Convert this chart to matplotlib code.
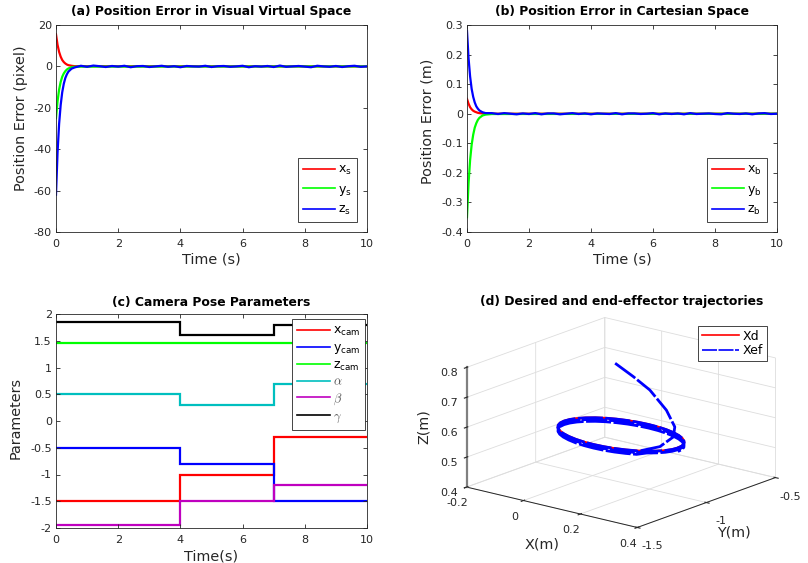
import numpy as np
import matplotlib
matplotlib.use('Agg')
import matplotlib.pyplot as plt

plt.rcParams['font.family'] = ['DejaVu Sans']
plt.rcParams['axes.unicode_minus'] = False
plt.rcParams['mathtext.default'] = 'regular'

# ---------------- data ----------------
# transient sample times (s)
t_tr = [0, 0.05, 0.1, 0.15, 0.2, 0.25, 0.3, 0.35, 0.4, 0.5, 0.6]
# (a) visual virtual space errors (pixel)
xs_tr = [15.5, 10.4, 7.0, 4.7, 3.1, 2.1, 1.4, 0.9, 0.6, 0.3, 0.1]
ys_tr = [-25, -16.8, -11.2, -7.5, -5.0, -3.4, -2.3, -1.5, -1.0, -0.4, -0.2]
zs_tr = [-62, -41.5, -27.8, -18.7, -12.5, -8.4, -5.6, -3.8, -2.5, -1.1, -0.5]
zs_ss = [0.3, -0.2, 0.4, 0.1, -0.3, 0.2, -0.1, 0.3, -0.4, 0.1, 0.2, -0.3,
         0.0, 0.3, -0.2, 0.1, -0.4, 0.2, 0.0, -0.1, 0.3, -0.3, 0.1, 0.2,
         -0.2, 0.0, 0.3, -0.4, 0.1, -0.1, 0.2, -0.3, 0.4, -0.2, 0.0, 0.2,
         -0.1, -0.4, 0.3, 0.0, -0.2, 0.2, -0.3, 0.1, 0.3, -0.2, 0.0]
xs_ss = [0.1, 0.0]
ys_ss = [-0.1, 0.0]

# (b) Cartesian space errors (m)
xb_tr = [0.05, 0.034, 0.022, 0.015, 0.010, 0.007, 0.005, 0.003, 0.002, 0.001, 0.0]
yb_tr = [-0.35, -0.235, -0.157, -0.105, -0.071, -0.047, -0.032, -0.021, -0.014, -0.006, -0.003]
zb_tr = [0.28, 0.188, 0.126, 0.084, 0.057, 0.038, 0.025, 0.017, 0.011, 0.005, 0.002]
zb_ss = [0.002, -0.001, 0.002, 0.000, -0.002, 0.001, -0.001, 0.002, -0.002, 0.001,
         0.001, -0.002, 0.000, 0.002, -0.001, 0.001, -0.002, 0.001, 0.000, -0.001,
         0.002, -0.002, 0.001, 0.001, -0.001, 0.000, 0.002, -0.002, 0.001, -0.001,
         0.001, -0.002, 0.002, -0.001, 0.000, 0.001, -0.001, -0.002, 0.002, 0.000,
         -0.001, 0.001, -0.002, 0.001, 0.002, -0.001, 0.000]
xb_ss = [0.0, 0.0]
yb_ss = [-0.001, 0.0]

# (c) camera pose parameters (piecewise constant)
t_switch = [0, 4, 7, 10]
x_cam = [-1.5, -1.0, -0.3]
y_cam = [-0.5, -0.8, -1.5]
z_cam = [1.45, 1.45, 1.45]
alpha = [0.5, 0.3, 0.7]
beta = [-1.95, -1.5, -1.2]
gamma = [1.85, 1.6, 1.8]

# (d) desired circle (m)
circ_x = [0.300, 0.297, 0.288, 0.273, 0.253, 0.229, 0.200, 0.168, 0.135, 0.100,
          0.065, 0.032, 0.000, -0.029, -0.053, -0.073, -0.088, -0.097, -0.100,
          -0.097, -0.088, -0.073, -0.053, -0.029, 0.000, 0.032, 0.065, 0.100,
          0.135, 0.168, 0.200, 0.229, 0.253, 0.273, 0.288, 0.297]
circ_y = [-1.000, -0.965, -0.932, -0.900, -0.871, -0.847, -0.827, -0.812, -0.803,
          -0.800, -0.803, -0.812, -0.827, -0.847, -0.871, -0.900, -0.932, -0.965,
          -1.000, -1.035, -1.068, -1.100, -1.129, -1.153, -1.173, -1.188, -1.197,
          -1.200, -1.197, -1.188, -1.173, -1.153, -1.129, -1.100, -1.068, -1.035]
circ_z = 0.56
# end-effector approach path (m)
app_x = [0.091, 0.138, 0.164, 0.212, 0.240, 0.252, 0.263, 0.234]
app_y = [-1.024, -0.989, -0.923, -0.902, -0.899, -0.934, -1.054, -1.161]
app_z = [0.80, 0.76, 0.71, 0.65, 0.60, 0.575, 0.565, 0.56]

# ---------------- figure ----------------
W, H = 808, 563
fig = plt.figure(figsize=(W / 100, H / 100), dpi=100)
DARK = '#262626'
TICK = 8
LAB = 10.4
TIT = 8.9


def box(l, t, r, b):
    return [l / W, 1 - b / H, (r - l) / W, (b - t) / H]


def style(ax):
    ax.tick_params(direction='in', top=True, right=True, length=3,
                   width=0.6, labelsize=TICK, colors=DARK, pad=3)
    ax.tick_params(axis='x', pad=5)
    for s in ax.spines.values():
        s.set_color(DARK)
        s.set_linewidth(0.6)


def mk_legend(ax, **kw):
    leg = ax.legend(fontsize=9, handlelength=2.6, fancybox=False,
                    edgecolor=DARK, framealpha=1, handletextpad=0.25, **kw)
    leg.get_frame().set_linewidth(0.6)
    for ln in leg.get_lines():
        ln.set_linewidth(1.2)
    return leg


LW = 1.6
# (a)
axa = fig.add_axes(box(56, 25, 367, 232))
t_ss = np.linspace(0.8, 10, len(zs_ss))
t_end = [0.8, 10]
axa.plot(t_tr + t_end, xs_tr + xs_ss, color='r', lw=LW, label='x$_{s}$')
axa.plot(t_tr + t_end, ys_tr + ys_ss, color=(0, 1, 0), lw=LW, label='y$_{s}$')
axa.plot(list(t_tr) + list(t_ss), zs_tr + zs_ss, color='b', lw=LW, label='z$_{s}$')
axa.set_xlim(0, 10)
axa.set_ylim(-80, 20)
axa.set_xticks([0, 2, 4, 6, 8, 10])
axa.set_yticks([-80, -60, -40, -20, 0, 20])
style(axa)
axa.set_xlabel('Time (s)', fontsize=LAB, color=DARK, labelpad=2.5)
axa.set_ylabel('Position Error (pixel)', fontsize=LAB, color=DARK)
axa.yaxis.set_label_coords(-0.09, 0.55)
axa.set_title('(a) Position Error in Visual Virtual Space', fontsize=TIT,
              fontweight='bold', pad=7)
mk_legend(axa, loc='lower right', borderaxespad=0.8, labelspacing=0.42)

# (b)
axb = fig.add_axes(box(467, 25, 777, 232))
axb.plot(t_tr + t_end, xb_tr + xb_ss, color='r', lw=LW, label='x$_{b}$')
axb.plot(t_tr + t_end, yb_tr + yb_ss, color=(0, 1, 0), lw=LW, label='y$_{b}$')
axb.plot(list(t_tr) + list(t_ss), zb_tr + zb_ss, color='b', lw=LW, label='z$_{b}$')
axb.set_xlim(0, 10)
axb.set_ylim(-0.4, 0.3)
axb.set_xticks([0, 2, 4, 6, 8, 10])
axb.set_yticks([-0.4, -0.3, -0.2, -0.1, 0, 0.1, 0.2, 0.3])
axb.set_yticklabels(['-0.4', '-0.3', '-0.2', '-0.1', '0', '0.1', '0.2', '0.3'])
style(axb)
axb.set_xlabel('Time (s)', fontsize=LAB, color=DARK, labelpad=2.5)
axb.set_ylabel('Position Error (m)', fontsize=LAB, color=DARK)
axb.yaxis.set_label_coords(-0.106, 0.536)
axb.set_title('(b) Position Error in Cartesian Space', fontsize=TIT,
              fontweight='bold', pad=7)
mk_legend(axb, loc='lower right', borderaxespad=0.8, labelspacing=0.42)

# (c)
axc = fig.add_axes(box(56, 314, 367, 528))
series_c = [(x_cam, 'r', 'x$_{cam}$'), (y_cam, 'b', 'y$_{cam}$'),
            (z_cam, (0, 1, 0), 'z$_{cam}$'), (alpha, 'c', r'$\mathit{\alpha}$'),
            (beta, 'm', r'$\mathit{\beta}$'), (gamma, 'k', r'$\mathit{\gamma}$')]
for vals, col, lab in series_c:
    axc.stairs(vals, t_switch, color=col, lw=LW, label=lab, baseline=None)
axc.set_xlim(0, 10)
axc.set_ylim(-2, 2)
axc.set_xticks([0, 2, 4, 6, 8, 10])
axc.set_yticks([-2, -1.5, -1, -0.5, 0, 0.5, 1, 1.5, 2])
axc.set_yticklabels(['-2', '-1.5', '-1', '-0.5', '0', '0.5', '1', '1.5', '2'])
style(axc)
axc.set_xlabel('Time(s)', fontsize=LAB, color=DARK, labelpad=3)
axc.set_ylabel('Parameters', fontsize=LAB, color=DARK)
axc.yaxis.set_label_coords(-0.107, 0.512)
axc.set_title('(c) Camera Pose Parameters', fontsize=TIT, fontweight='bold', pad=6)
leg = mk_legend(axc, loc='upper right', borderaxespad=0.15, labelspacing=0.22,
                bbox_to_anchor=(1.0, 0.985))
for txt in leg.get_texts()[3:]:
    txt.set_math_fontfamily('cm')
    txt.set_color('#555555')

# (d)
ax3 = fig.add_axes(box(430, 296, 805, 556), projection='3d')
ax3.set_proj_type('ortho')
cx = list(circ_x) + [circ_x[0]]
cy = list(circ_y) + [circ_y[0]]
ax3.plot(cx, cy, [circ_z] * len(cx), color='r', lw=1.8, label='Xd')
order = list(range(31, -1, -1)) + list(range(35, -1, -1)) + list(range(35, -1, -1))
ef_x = list(app_x) + [circ_x[i] for i in order]
ef_y = list(app_y) + [circ_y[i] for i in order]
ef_z = list(app_z) + [circ_z - 0.006 * (k // 36) for k in range(len(order))]
ax3.plot(ef_x, ef_y, ef_z, color='b', lw=2.0, ls=(0, (9, 0.9)), label='Xef')
ax3.set_xlim(-0.2, 0.4)
ax3.set_ylim(-1.5, -0.5)
ax3.set_zlim(0.4, 0.8)
ax3.set_xticks([-0.2, 0, 0.2, 0.4])
ax3.set_xticklabels(['-0.2', '0', '0.2', '0.4'])
ax3.set_yticks([-1.5, -1, -0.5])
ax3.set_yticklabels(['-1.5', '-1', '-0.5'])
ax3.set_zticks([0.4, 0.5, 0.6, 0.7, 0.8])
ax3.set_zticklabels(['0.4', '0.5', '0.6', '0.7', '0.8'])
ax3.view_init(elev=17, azim=-51)
ax3.set_box_aspect((1, 1, 0.57), zoom=1.25)
for axis in (ax3.xaxis, ax3.yaxis, ax3.zaxis):
    axis.set_pane_color((1, 1, 1, 0))
    axis.pane.set_edgecolor('#dddddd')
    axis._axinfo['grid']['color'] = '#dddddd'
    axis._axinfo['grid']['linewidth'] = 0.6
    axis.line.set_color(DARK)
    axis.line.set_linewidth(0.7)
ax3.zaxis.line.set_color('#808080')
ax3.zaxis.line.set_linewidth(1.6)
ax3.zaxis.set_ticks_position('lower')
ax3.tick_params(labelsize=TICK, colors=DARK)
ax3.xaxis.set_tick_params(pad=-1.5)
ax3.yaxis.set_tick_params(pad=0.5)
ax3.zaxis.set_tick_params(pad=-2.5)
fig.text(542 / W, 1 - 545 / H, 'X(m)', fontsize=LAB, color=DARK,
         ha='center', va='center')
fig.text(734 / W, 1 - 533 / H, 'Y(m)', fontsize=LAB, color=DARK,
         ha='center', va='center')
fig.text(424 / W, 1 - 427 / H, 'Z(m)', fontsize=LAB, color=DARK,
         ha='center', va='center', rotation=90)
fig.text(622 / W, 1 - 302 / H, '(d) Desired and end-effector trajectories',
         fontsize=TIT, fontweight='bold', ha='center', va='center')
h, l = ax3.get_legend_handles_labels()
leg = fig.legend(h, l, loc='upper right', fontsize=9, handlelength=3.0,
                 fancybox=False, edgecolor=DARK, framealpha=1,
                 labelspacing=0.1, handletextpad=0.3, borderpad=0.3,
                 borderaxespad=0,
                 bbox_to_anchor=(767 / W, 1 - 326 / H),
                 bbox_transform=fig.transFigure)
leg.get_frame().set_linewidth(0.6)
for ln in leg.get_lines():
    ln.set_linewidth(1.2)

fig.savefig('out.png', dpi=100)
